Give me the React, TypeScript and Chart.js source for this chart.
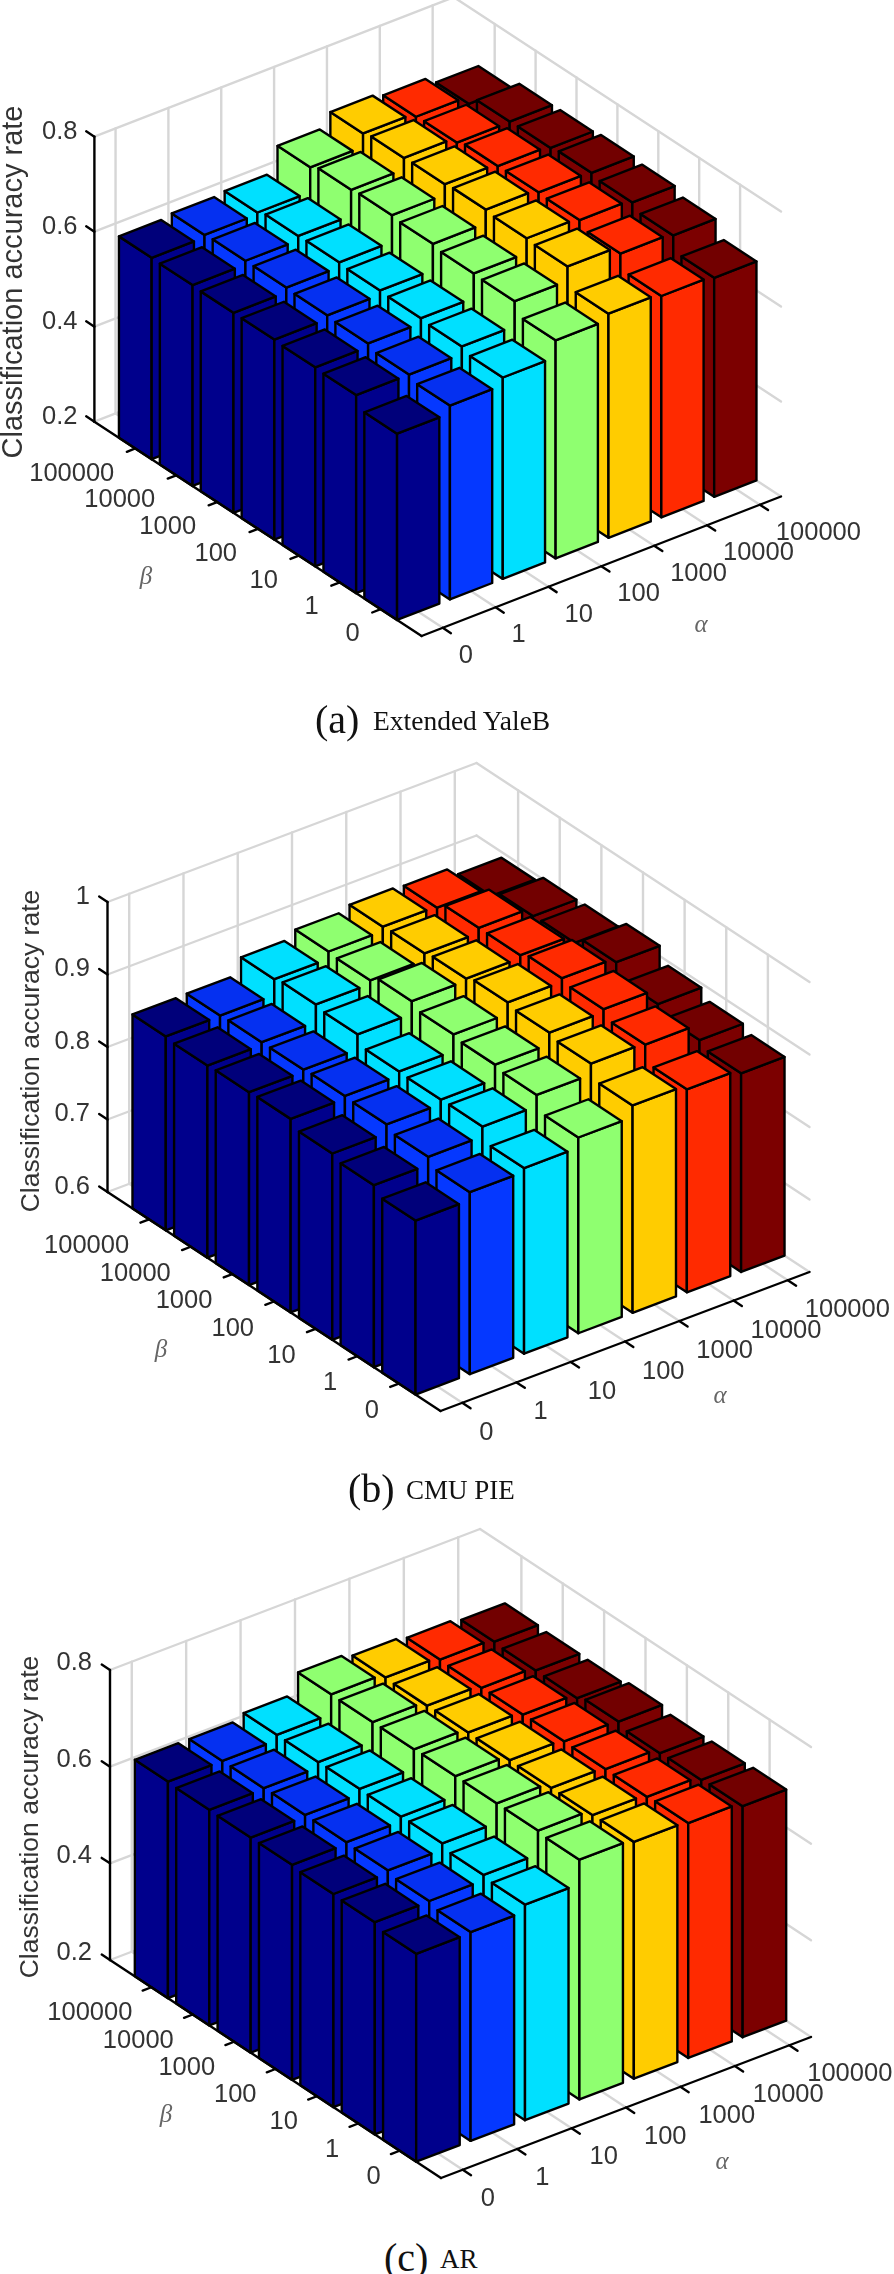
import React, { useEffect, useRef } from "react";
import { Chart, registerables } from "chart.js";

Chart.register(...registerables);

const alphaTicks = ["0", "1", "10", "100", "1000", "10000", "100000"];
const betaTicks = ["0", "1", "10", "100", "1000", "10000", "100000"];

// rows: alpha index, columns: beta index
const yaleB = [
  [0.592, 0.617, 0.619, 0.621, 0.621, 0.623, 0.624],
  [0.608, 0.617, 0.626, 0.629, 0.631, 0.631, 0.629],
  [0.624, 0.633, 0.636, 0.638, 0.641, 0.64, 0.633],
  [0.659, 0.685, 0.687, 0.693, 0.697, 0.694, 0.685],
  [0.672, 0.715, 0.718, 0.722, 0.719, 0.718, 0.713],
  [0.666, 0.699, 0.713, 0.715, 0.714, 0.707, 0.705],
  [0.661, 0.694, 0.707, 0.713, 0.709, 0.708, 0.689],
];
const cmuPie = [
  [0.84, 0.851, 0.857, 0.867, 0.866, 0.865, 0.8675],
  [0.851, 0.862, 0.869, 0.8705, 0.869, 0.869, 0.868],
  [0.856, 0.8756, 0.875, 0.876, 0.8895, 0.893, 0.89],
  [0.87, 0.891, 0.895, 0.899, 0.907, 0.898, 0.9],
  [0.886, 0.906, 0.911, 0.915, 0.91, 0.907, 0.906],
  [0.88, 0.904, 0.915, 0.92, 0.914, 0.914, 0.904],
  [0.874, 0.882, 0.894, 0.914, 0.903, 0.902, 0.892],
];
const arFace = [
  [0.63, 0.639, 0.641, 0.645, 0.645, 0.646, 0.648],
  [0.632, 0.64, 0.647, 0.649, 0.649, 0.648, 0.648],
  [0.646, 0.651, 0.66, 0.659, 0.66, 0.659, 0.659],
  [0.696, 0.7, 0.7, 0.7, 0.699, 0.699, 0.7],
  [0.69, 0.689, 0.689, 0.69, 0.691, 0.69, 0.692],
  [0.686, 0.684, 0.685, 0.686, 0.685, 0.684, 0.686],
  [0.678, 0.676, 0.675, 0.684, 0.676, 0.677, 0.68],
];

const sideColors = ["#00008c", "#0538ff", "#00e0ff", "#8fff70", "#ffcc00", "#ff2a00", "#7c0000"];
const topColors = ["#00007a", "#0530f0", "#00e0ff", "#8fff70", "#ffcc00", "#ff2a00", "#720000"];

const A_SPAN = 6.8;
const B_SPAN = 8;

const panels = [
  {
    name: "Extended YaleB", values: yaleB, top: 0, height: 700,
    zTicks: [0.2, 0.4, 0.6, 0.8], zMin: 0.2, zMax: 0.8, zFmt: ["0.2", "0.4", "0.6", "0.8"],
    F: [421.6, 636], R: [359.4, -139.5], L: [-327.2, -214.3], H: 285,
    title: { x: 14, y: 282, size: 29 }, zLab: [-17, -5],
    bLab: [-21, 25], aLab: [16, 28], alphaPos: [701, 625], betaPos: [146, 577],
  },
  {
    name: "CMU PIE", values: cmuPie, top: 740, height: 735,
    zTicks: [0.6, 0.7, 0.8, 0.9, 1], zMin: 0.6, zMax: 1, zFmt: ["0.6", "0.7", "0.8", "0.9", "1"],
    F: [440.5, 1411], R: [369, -139], L: [-333, -219], H: 290,
    title: { x: 32, y: 1051, size: 26.5 }, zLab: [-17.5, -5.5],
    bLab: [-20, 27], aLab: [17, 30], alphaPos: [720, 1396], betaPos: [161, 1350],
  },
  {
    name: "AR", values: arFace, top: 1490, height: 740,
    zTicks: [0.2, 0.4, 0.6, 0.8], zMin: 0.2, zMax: 0.8, zFmt: ["0.2", "0.4", "0.6", "0.8"],
    F: [441, 2178], R: [370, -141], L: [-331, -218], H: 290,
    title: { x: 31, y: 1817, size: 26.5 }, zLab: [-18, -7],
    bLab: [-19, 26], aLab: [18, 29], alphaPos: [722, 2162], betaPos: [166, 2115],
  },
];

const captions = [
  { tag: "(a)", tagX: 315, name: "Extended YaleB", nameX: 373, y: 719, size: 27.5 },
  { tag: "(b)", tagX: 348, name: "CMU PIE", nameX: 406, y: 1488, size: 27 },
  { tag: "(c)", tagX: 384, name: "AR", nameX: 440, y: 2257, size: 27 },
];

type Panel = (typeof panels)[number];

function project(p: Panel, a: number, b: number, z: number) {
  return {
    x: p.F[0] + (a / A_SPAN) * p.R[0] + (b / B_SPAN) * p.L[0],
    y: p.F[1] + (a / A_SPAN) * p.R[1] + (b / B_SPAN) * p.L[1] - ((z - p.zMin) / (p.zMax - p.zMin)) * p.H,
  };
}

function barPlugin(p: Panel) {
  return {
    id: "bars3d",
    beforeDatasetsDraw(chart: any) {
      const { ctx, scales } = chart;
      const pt = (a: number, b: number, z: number) => {
        const q = project(p, a, b, z);
        return [scales.x.getPixelForValue(q.x), scales.y.getPixelForValue(q.y)];
      };
      const seg = (c1: number[], c2: number[]) => {
        ctx.beginPath();
        ctx.moveTo(c1[0], c1[1]);
        ctx.lineTo(c2[0], c2[1]);
        ctx.stroke();
      };
      const poly = (pts: number[][], fill: string) => {
        ctx.beginPath();
        pts.forEach((c, k) => (k ? ctx.lineTo(c[0], c[1]) : ctx.moveTo(c[0], c[1])));
        ctx.closePath();
        ctx.fillStyle = fill;
        ctx.fill();
        ctx.stroke();
      };
      ctx.save();
      ctx.lineCap = "round";
      ctx.lineJoin = "round";
      // grid on the walls and floor
      ctx.strokeStyle = "#d6d6d6";
      ctx.lineWidth = 2.4;
      p.zTicks.forEach((z) => {
        seg(pt(0, B_SPAN, z), pt(A_SPAN, B_SPAN, z));
        seg(pt(A_SPAN, B_SPAN, z), pt(A_SPAN, 0, z));
      });
      alphaTicks.forEach((_, i) => {
        const a = i + 0.4;
        seg(pt(a, B_SPAN, p.zMin), pt(a, B_SPAN, p.zMax));
        seg(pt(a, 0, p.zMin), pt(a, B_SPAN, p.zMin));
      });
      betaTicks.forEach((_, j) => {
        const b = j + 1;
        seg(pt(A_SPAN, b, p.zMin), pt(A_SPAN, b, p.zMax));
        seg(pt(0, b, p.zMin), pt(A_SPAN, b, p.zMin));
      });
      // bars, far ones first
      ctx.strokeStyle = "#000";
      ctx.lineWidth = 2.4;
      for (let i = 6; i >= 0; i--) {
        for (let j = 6; j >= 0; j--) {
          const v = p.values[i][j];
          const a0 = i, a1 = i + 0.8, b0 = j + 0.6, b1 = j + 1.4;
          poly([pt(a0, b0, p.zMin), pt(a0, b1, p.zMin), pt(a0, b1, v), pt(a0, b0, v)], sideColors[i]);
          poly([pt(a0, b0, p.zMin), pt(a1, b0, p.zMin), pt(a1, b0, v), pt(a0, b0, v)], sideColors[i]);
          poly([pt(a0, b0, v), pt(a1, b0, v), pt(a1, b1, v), pt(a0, b1, v)], topColors[i]);
        }
      }
      // axes and ticks
      ctx.strokeStyle = "#000";
      ctx.lineWidth = 2.4;
      seg(pt(0, B_SPAN, p.zMin), pt(0, B_SPAN, p.zMax));
      seg(pt(0, B_SPAN, p.zMin), pt(0, 0, p.zMin));
      seg(pt(0, 0, p.zMin), pt(A_SPAN, 0, p.zMin));
      p.zTicks.forEach((z) => seg(pt(0, B_SPAN, z), pt(0, B_SPAN + 0.2, z)));
      betaTicks.forEach((_, j) => seg(pt(0, j + 1, p.zMin), pt(-0.16, j + 1, p.zMin)));
      alphaTicks.forEach((_, i) => seg(pt(i + 0.4, 0, p.zMin), pt(i + 0.4, -0.2, p.zMin)));
      // text
      ctx.fillStyle = "#333";
      ctx.textBaseline = "middle";
      ctx.font = "25.5px 'Liberation Sans'";
      ctx.textAlign = "right";
      p.zTicks.forEach((z, k) => {
        const c = pt(0, B_SPAN, z);
        ctx.fillText(p.zFmt[k], c[0] + p.zLab[0], c[1] + p.zLab[1]);
      });
      betaTicks.forEach((t, j) => {
        const c = pt(0, j + 1, p.zMin);
        ctx.fillText(t, c[0] + p.bLab[0], c[1] + p.bLab[1]);
      });
      ctx.textAlign = "left";
      alphaTicks.forEach((t, i) => {
        const c = pt(i + 0.4, 0, p.zMin);
        ctx.fillText(t, c[0] + p.aLab[0], c[1] + p.aLab[1]);
      });
      ctx.textAlign = "center";
      ctx.fillStyle = "#666";
      ctx.font = "italic 25px 'Liberation Serif'";
      ctx.fillText("α", scales.x.getPixelForValue(p.alphaPos[0]), scales.y.getPixelForValue(p.alphaPos[1]));
      ctx.fillText("β", scales.x.getPixelForValue(p.betaPos[0]), scales.y.getPixelForValue(p.betaPos[1]));
      ctx.fillStyle = "#333";
      ctx.font = `${p.title.size}px 'Liberation Sans'`;
      ctx.translate(scales.x.getPixelForValue(p.title.x), scales.y.getPixelForValue(p.title.y));
      ctx.rotate(-Math.PI / 2);
      ctx.fillText("Classification accuracy rate", 0, 0);
      ctx.restore();
    },
  };
}

function Panel3D({ panel }: { panel: Panel }) {
  const ref = useRef<HTMLCanvasElement>(null);
  useEffect(() => {
    const chart = new Chart(ref.current as HTMLCanvasElement, {
      type: "scatter",
      data: {
        datasets: panel.values.map((row, i) => ({
          label: `alpha ${alphaTicks[i]}`,
          data: row.map((v, j) => project(panel, i + 0.4, j + 1, v)),
          pointRadius: 0,
          showLine: false,
          backgroundColor: sideColors[i],
        })),
      },
      options: {
        animation: false,
        responsive: false,
        devicePixelRatio: 1,
        layout: { padding: 0 },
        plugins: { legend: { display: false }, tooltip: { enabled: false } },
        scales: {
          x: { type: "linear", display: false, min: 0, max: 894 },
          y: { type: "linear", display: false, min: panel.top, max: panel.top + panel.height, reverse: true },
        },
      },
      plugins: [barPlugin(panel)],
    } as any);
    return () => chart.destroy();
  }, [panel]);
  return (
    <canvas
      ref={ref}
      width={894}
      height={panel.height}
      style={{ position: "absolute", left: 0, top: panel.top, width: 894, height: panel.height, filter: "blur(0.7px)" }}
    />
  );
}

export default function App() {
  return (
    <div style={{ position: "absolute", left: 0, top: 0, width: 894, height: 2274, overflow: "hidden", background: "#fff" }}>
      {panels.map((p) => (
        <Panel3D key={p.name} panel={p} />
      ))}
      {captions.map((c) => (
        <React.Fragment key={c.tag}>
          <div style={{ position: "absolute", left: c.tagX, top: c.y, transform: "translateY(-50%)", font: "40px 'Liberation Serif'", color: "#111", whiteSpace: "nowrap" }}>{c.tag}</div>
          <div style={{ position: "absolute", left: c.nameX, top: c.y + 2, transform: "translateY(-50%)", font: `${c.size}px 'Liberation Serif'`, color: "#111", whiteSpace: "nowrap" }}>{c.name}</div>
        </React.Fragment>
      ))}
    </div>
  );
}
